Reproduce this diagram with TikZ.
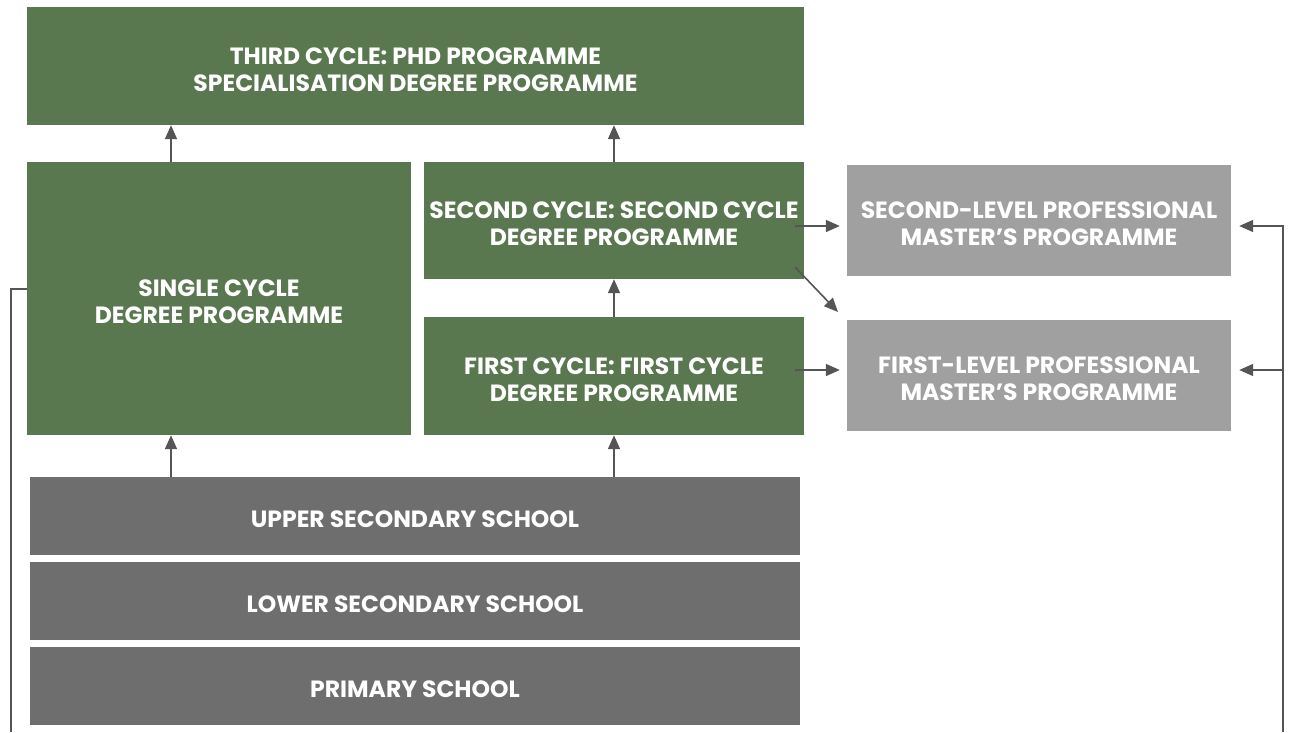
\documentclass[tikz,border=0pt]{standalone}
\usepackage{fontspec}
\setmainfont{Poppins}[UprightFont=* SemiBold, BoldFont=* Bold]
\usetikzlibrary{arrows.meta}
\definecolor{grn}{HTML}{5A7850}
\definecolor{lgr}{HTML}{A0A0A0}
\definecolor{dgr}{HTML}{6E6E6E}
\definecolor{arr}{HTML}{555555}
\begin{document}
\begin{tikzpicture}[x=1pt,y=-1pt,
  txt/.style={inner sep=0pt,align=center,text=white,font=\fontsize{23.5}{27}\selectfont\bfseries,yshift=-3.5pt},
  box/.style={inner sep=0pt,label={[txt]center:{#1}}},
  gbox/.style={box={#1},fill=grn},
  lbox/.style={box={#1},fill=lgr},
  dbox/.style={box={#1},fill=dgr},
  conn/.style={draw=arr,line width=1.6pt,-{Triangle[length=14pt,width=12pt]}},
  plain/.style={draw=arr,line width=1.6pt}]
\useasboundingbox (0,0) rectangle (1290,732);
\node[gbox={THIRD CYCLE: PHD PROGRAMME\\SPECIALISATION DEGREE PROGRAMME},minimum width=777pt,minimum height=118pt] (top) at (415.5,66) {};
\node[gbox={SINGLE CYCLE\\DEGREE PROGRAMME},minimum width=384pt,minimum height=273pt] (single) at (219,298.5) {};
\node[gbox={SECOND CYCLE: SECOND CYCLE\\DEGREE PROGRAMME},minimum width=380pt,minimum height=117pt] (second) at (614,220.5) {};
\node[gbox={FIRST CYCLE: FIRST CYCLE\\DEGREE PROGRAMME},minimum width=380pt,minimum height=118pt] (first) at (614,376) {};
\node[lbox={SECOND-LEVEL PROFESSIONAL\\MASTER’S PROGRAMME},minimum width=384pt,minimum height=111pt] (slev) at (1039,220.5) {};
\node[lbox={FIRST-LEVEL PROFESSIONAL\\MASTER’S PROGRAMME},minimum width=384pt,minimum height=111pt] (flev) at (1039,375.5) {};
\node[dbox={UPPER SECONDARY SCHOOL},minimum width=770pt,minimum height=78pt] (upper) at (415,516) {};
\node[dbox={LOWER SECONDARY SCHOOL},minimum width=770pt,minimum height=78pt] (lower) at (415,601) {};
\node[dbox={PRIMARY SCHOOL},minimum width=770pt,minimum height=78pt] (prim) at (415,686) {};
\coordinate (lb) at (11,732);
\coordinate (rb) at (1283,732);
% vertical arrows
\draw[conn] (upper.north -| 171,0) -- (single.south -| 171,0);
\draw[conn] (single.north -| 171,0) -- (top.south -| 171,0);
\draw[conn] (upper.north -| 614,0) -- (first.south -| 614,0);
\draw[conn] (first.north -| 614,0) -- (second.south -| 614,0);
\draw[conn] (second.north -| 614,0) -- (top.south -| 614,0);
% horizontal arrows
\draw[conn] ([xshift=-9pt]second.east |- 0,226) -- ([xshift=-7pt]slev.west |- 0,226);
\draw[conn] ([xshift=-9pt]first.east |- 0,370) -- ([xshift=-7pt]flev.west |- 0,370);
\draw[conn] (795,267) -- (838,312);
% left line
\draw[plain] (single.west |- 0,289) -- (lb |- 0,289) -- (lb);
% right line
\draw[conn] (rb) -- (rb |- 0,226) -- ([xshift=8pt]slev.east |- 0,226);
\draw[conn] (rb |- 0,370) -- ([xshift=8pt]flev.east |- 0,370);
\end{tikzpicture}
\end{document}
